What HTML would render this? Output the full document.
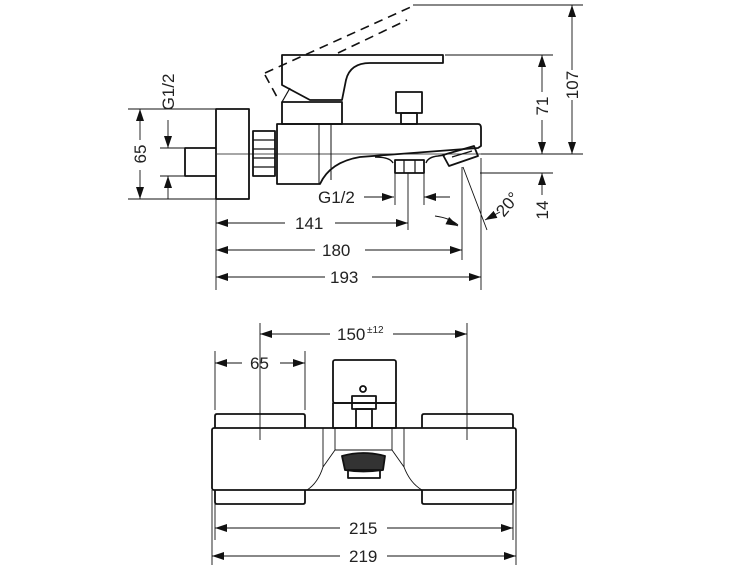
<!DOCTYPE html>
<html><head><meta charset="utf-8"><style>
html,body{margin:0;padding:0;background:#fff;}
svg{display:block;}
text{font-family:"Liberation Sans",sans-serif;font-size:17px;fill:#222;}
</style></head><body>
<svg width="750" height="571" viewBox="0 0 750 571" xmlns="http://www.w3.org/2000/svg">
<defs>
<marker id="a" viewBox="0 0 12 8" refX="12" refY="4" markerWidth="12" markerHeight="8" markerUnits="userSpaceOnUse" orient="auto-start-reverse"><path d="M0,0 L12,4 L0,8 z" fill="#111"/></marker>
</defs>
<g fill="none" stroke="#111" stroke-width="1.8" stroke-linejoin="round">
<rect x="216" y="109" width="33" height="90"/>
<path d="M216,148 H185 V176 H216"/>
<rect x="253" y="131" width="22" height="45"/>
<path d="M253,140 H275 M253,149 H275 M253,158 H275 M253,167 H275" stroke-width="1.2"/>
<path d="M277,124 H478 Q481,124 481,128 V146 L478,148 L360,157 Q330,162 320,184 H277 Z"/>
<path d="M375,157 Q390,157 393,163 M426,163 Q428,157 438,156 L445,155" stroke-width="1.4"/>
<path d="M319,124 V184 M331,124 V180" stroke-width="1"/>
<rect x="282" y="102" width="60" height="22"/>
<path d="M282,55 H443 V63 H370 Q350,63 346,80 L342,100 H310 L282,85 Z"/>
<path d="M290,88 L282,102" stroke-width="1.2"/>
<path d="M265,73 L413,6 M338,53 L407,20 M265,75 L277,97" stroke-dasharray="9,6" stroke-width="1.6"/>
<rect x="396" y="92" width="26" height="21"/>
<rect x="401" y="113" width="16" height="11"/>
<rect x="395" y="160" width="29" height="13"/>
<path d="M404,160 V173 M415,160 V173" stroke-width="1.2"/>
<path d="M443,155 L474,146 L478,156 L449,166 Z"/>
<path d="M452,157 L472,151" stroke-width="1.2"/>
</g>
<g fill="none" stroke="#111" stroke-width="0.9">
<path d="M413,5 H583 M445,55 H553 M481,154 H583 M128,109 H216 M128,199 H216 M160,148 H185 M160,176 H216 M480,173 H553"/>
<path d="M217,154 H481" stroke-width="0.8"/>
<path d="M216,199 V290 M481,158 V290 M462,167 V260 M408,173 V230 M395,173 V205 M424,173 V205 M463,167 L487,230"/>
<path d="M435,216 Q450,218 458,225"/>
<path d="M572,5 V70" marker-start="url(#a)"/>
<path d="M572,100 V154" marker-end="url(#a)"/>
<path d="M542,55 V92" marker-start="url(#a)"/>
<path d="M542,120 V154" marker-end="url(#a)"/>
<path d="M542,173 V195" marker-start="url(#a)"/>
<path d="M140,109 V140" marker-start="url(#a)"/>
<path d="M140,170 V199" marker-end="url(#a)"/>
<path d="M168,120 V148" marker-end="url(#a)"/>
<path d="M168,176 V199" marker-start="url(#a)"/>
<path d="M364,197 H394" marker-end="url(#a)"/>
<path d="M450,197 H424" marker-end="url(#a)"/>
<path d="M216,223 H285" marker-start="url(#a)"/>
<path d="M335,223 H408" marker-end="url(#a)"/>
<path d="M216,250 H315" marker-start="url(#a)"/>
<path d="M365,250 H462" marker-end="url(#a)"/>
<path d="M216,277 H325" marker-start="url(#a)"/>
<path d="M372,277 H481" marker-end="url(#a)"/>
<path d="M450,222 L458,226" marker-end="url(#a)"/>
<path d="M500,212 L485,220" marker-end="url(#a)"/>
</g>
<text x="295" y="229">141</text>
<text x="322" y="256">180</text>
<text x="330" y="283">193</text>
<text x="318" y="203">G1/2</text>
<text transform="translate(578,85) rotate(-90)" text-anchor="middle">107</text>
<text transform="translate(548,106) rotate(-90)" text-anchor="middle">71</text>
<text transform="translate(548,210) rotate(-90)" text-anchor="middle">14</text>
<text transform="translate(146,154) rotate(-90)" text-anchor="middle">65</text>
<text transform="translate(174,92) rotate(-90)" text-anchor="middle">G1/2</text>
<text transform="translate(512,208) rotate(-50)" text-anchor="middle">20°</text>

<g fill="none" stroke="#111" stroke-width="1.8" stroke-linejoin="round">
<rect x="333" y="360" width="63" height="43" rx="2"/>
<rect x="333" y="403" width="63" height="25"/>
<rect x="352" y="396" width="24" height="13"/>
<rect x="356" y="409" width="16" height="19"/>
<circle cx="363" cy="389" r="3"/>
<path d="M215,428 V416 Q215,414 217,414 H303 Q305,414 305,416 V428"/>
<path d="M422,428 V416 Q422,414 424,414 H511 Q513,414 513,416 V428"/>
<rect x="212" y="428" width="304" height="62" rx="2"/>
<path d="M215,490 V502 Q215,504 217,504 H303 Q305,504 305,502 V490"/>
<path d="M422,490 V502 Q422,504 424,504 H511 Q513,504 513,502 V490"/>
<path d="M342,456 Q363,450 385,456 L383,470 Q363,473 345,470 Z" fill="#333"/>
<rect x="348" y="470" width="32" height="8"/>
</g>
<g fill="none" stroke="#111" stroke-width="0.9">
<path d="M323,428 V467 Q318,483 307,490 M404,428 V467 Q410,483 422,490 M335,428 V450 H392 V428 M335,450 L323,467 M392,450 L404,467"/>
<path d="M260,323 V440 M467,323 V440 M215,351 V410 M305,351 V410 M212,490 V565 M516,490 V565 M215,504 V540 M513,504 V540"/>
<path d="M260,334 H330" marker-start="url(#a)"/>
<path d="M393,334 H467" marker-end="url(#a)"/>
<path d="M215,363 H242" marker-start="url(#a)"/>
<path d="M280,363 H305" marker-end="url(#a)"/>
<path d="M215,528 H340" marker-start="url(#a)"/>
<path d="M387,528 H513" marker-end="url(#a)"/>
<path d="M212,556 H340" marker-start="url(#a)"/>
<path d="M387,556 H516" marker-end="url(#a)"/>
</g>
<text x="337" y="340">150</text><text x="367" y="333" style="font-size:10px">±12</text>
<text x="250" y="369">65</text>
<text x="349" y="534">215</text>
<text x="349" y="562">219</text>
</svg>
</body></html>
